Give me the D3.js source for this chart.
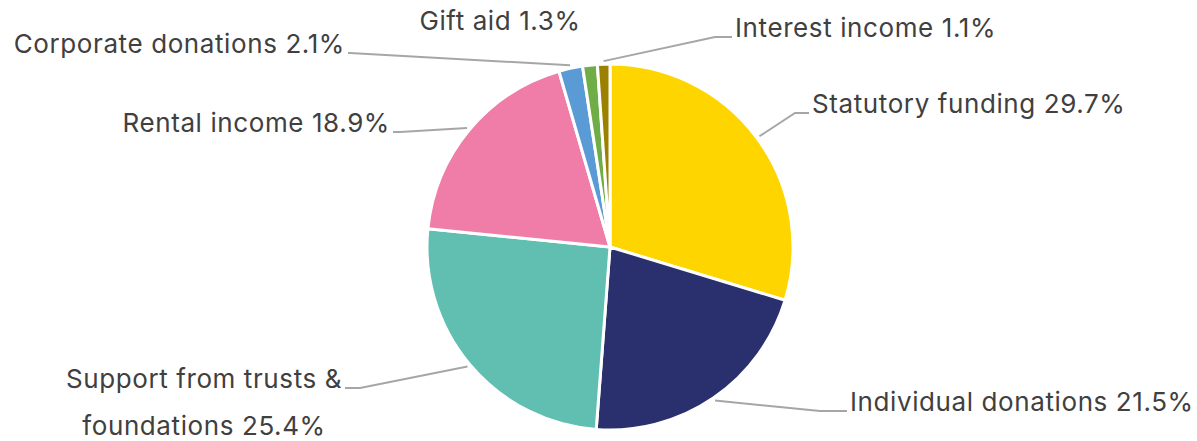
<!DOCTYPE html>
<html>
<head>
<meta charset="UTF-8">
<script src="https://d3js.org/d3.v7.min.js"></script>
<style>
  body { margin: 0; background: #fff; }
  text { font-family: Inter, "Noto Sans", sans-serif; fill: #404040; letter-spacing: 0.6px; }
</style>
</head>
<body>
<svg></svg>
<script>
const categories = ["Statutory funding", "Individual donations", "Support from trusts & foundations",
  "Rental income", "Corporate donations", "Gift aid", "Interest income"];
const values = [29.7, 21.5, 25.4, 18.9, 2.1, 1.3, 1.1];
const colors = ["#FFD500", "#29306D", "#60BFB1", "#EF7DA7", "#5B9BD5", "#70AD47", "#9C8100"];

// label placement: text x, baseline y, anchor, elbow x (null = no leader)
const labelLayout = [
  {lines: ["Statutory funding 29.7%"], x: 812, y: 113, anchor: "start", elbow: 795},
  {lines: ["Individual donations 21.5%"], x: 850, y: 411, anchor: "start", elbow: 820},
  {lines: ["Support from trusts &", "foundations 25.4%"], x: 204, y: 388, anchor: "middle", elbow: 360, lineEnd: 345},
  {lines: ["Rental income 18.9%"], x: 390, y: 132, anchor: "end", elbow: 400},
  {lines: ["Corporate donations 2.1%"], x: 345, y: 53, anchor: "end", elbow: 350},
  {lines: ["Gift aid 1.3%"], x: 500, y: 30, anchor: "middle", elbow: null},
  {lines: ["Interest income 1.1%"], x: 735, y: 37, anchor: "start", elbow: 715}
];

const width = 1197, height = 441;
const cx = 610, cy = 247, r = 183;

const svg = d3.select("svg").attr("width", width).attr("height", height);

const pie = d3.pie().sort(null).value(d => d)(values);
const arc = d3.arc().innerRadius(0).outerRadius(r);

const g = svg.append("g").attr("transform", `translate(${cx},${cy})`);
g.selectAll("path")
  .data(pie)
  .join("path")
  .attr("d", arc)
  .attr("fill", (d, i) => colors[i])
  .attr("stroke", "#fff")
  .attr("stroke-width", 3)
  .attr("stroke-linejoin", "round");

// leader lines
pie.forEach((d, i) => {
  const L = labelLayout[i];
  if (L.elbow == null) return;
  const a = (d.startAngle + d.endAngle) / 2;
  const sx = cx + (r + 3) * Math.sin(a), sy = cy - (r + 3) * Math.cos(a);
  let endX;
  if (L.lineEnd != null) endX = L.lineEnd;
  else endX = L.anchor === "start" ? L.x - 3 : L.x + 3;
  svg.append("polyline")
    .attr("points", [[sx, sy], [L.elbow, L.y], [endX, L.y]].map(p => p.join(",")).join(" "))
    .attr("fill", "none")
    .attr("stroke", "#A6A6A6")
    .attr("stroke-width", 2);
});

// labels
labelLayout.forEach(L => {
  const t = svg.append("text")
    .attr("text-anchor", L.anchor)
    .attr("font-size", 26);
  L.lines.forEach((s, j) => {
    t.append("tspan").attr("x", L.x).attr("y", L.y + j * 47).text(s);
  });
});
</script>
</body>
</html>
